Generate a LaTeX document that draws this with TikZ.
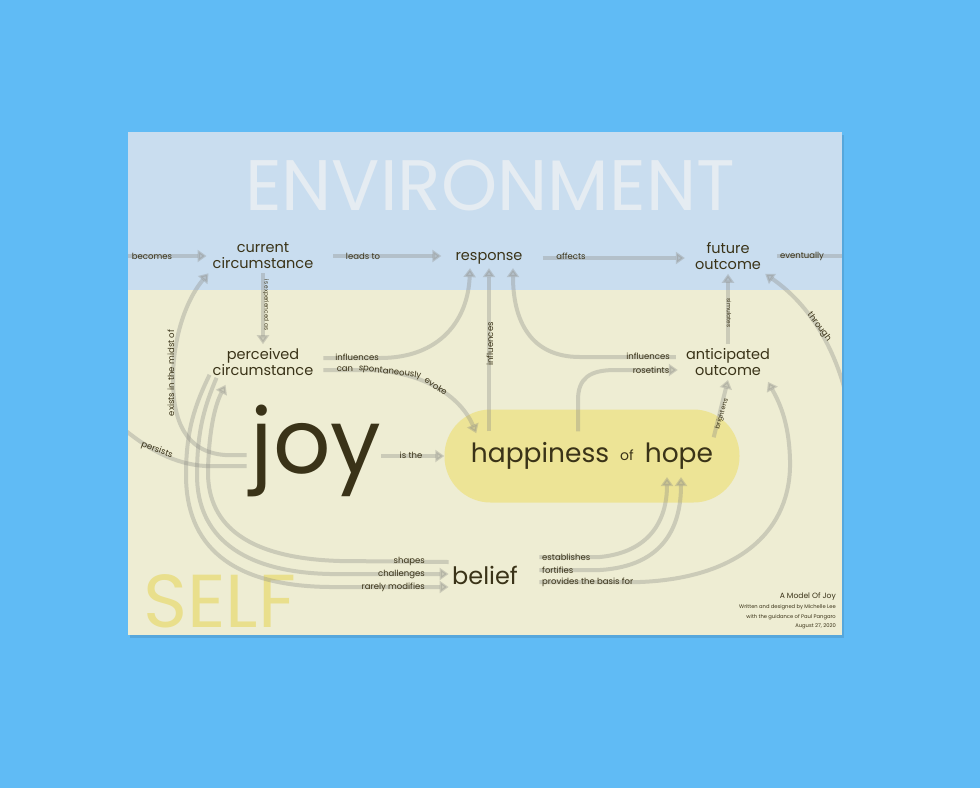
\documentclass[tikz,border=0pt]{standalone}
\usepackage{fontspec}
\setmainfont{Poppins}
\usetikzlibrary{arrows.meta,positioning,calc}
\definecolor{SkyBlue}{RGB}{96,187,245}
\definecolor{EnvBlue}{RGB}{201,221,239}
\definecolor{SelfCream}{RGB}{238,237,211}
\definecolor{EnvText}{RGB}{229,236,242}
\definecolor{SelfYellow}{RGB}{233,223,140}
\definecolor{HopeYellow}{RGB}{237,228,150}
\definecolor{InkBrown}{RGB}{58,51,24}
\definecolor{FlowGray}{RGB}{140,140,135}

\begin{document}
\begin{tikzpicture}[x=1pt, y=-1pt,
  concept/.style={font=\fontsize{14.5}{16}\selectfont, text=InkBrown, align=center, inner sep=4pt},
  flow/.style={draw=FlowGray, line width=4pt, opacity=0.35, -{Triangle[width=12pt,length=9pt]}},
  flowline/.style={draw=FlowGray, line width=4pt, opacity=0.35},
  lbl/.style={font=\fontsize{8.5}{10}\selectfont, text=InkBrown, inner sep=0pt},
  tinylbl/.style={font=\fontsize{5.8}{7}\selectfont, text=InkBrown, inner sep=0pt},
  credit/.style={font=\fontsize{5.2}{6}\selectfont, text=InkBrown, inner sep=0pt, anchor=east}]

  % Backdrop and poster
  \fill[SkyBlue] (0,0) rectangle (980,788);
  \useasboundingbox (0,0) rectangle (980,788);
  \fill[black, opacity=0.10] (130,135) rectangle (844,638);
  \fill[SelfCream] (128,132) rectangle (842,635);
  \fill[EnvBlue] (128,132) rectangle (842,290);

  % Realm titles
  \node[font=\fontsize{71.5}{72}\selectfont, text=EnvText] (envTitle) at (490,186) {ENVIRONMENT};
  \node[font=\fontsize{75}{75}\selectfont, text=SelfYellow, anchor=base west, inner sep=0pt] (selfTitle) at (143,627) {SELF};

  % Concepts
  \node[concept] (cur) at (263,256) {current\\circumstance};
  \node[concept] (resp) at (489,258) {response};
  \node[concept] (fut) at (728,256) {future\\outcome};
  \node[concept] (perc) at (263,362) {perceived\\circumstance};
  \node[concept] (anti) at (728,362) {anticipated\\outcome};
  \node[font=\fontsize{90}{90}\selectfont, text=InkBrown, inner sep=0pt] (joy) at (316,451) {joy};
  \node[fill=HopeYellow, rounded corners=46pt, minimum width=295pt, minimum height=93pt,
        text=InkBrown, font=\fontsize{26.5}{28}\selectfont] (hope) at (592,456)
        {happiness\hspace{11pt}\raisebox{2pt}{\fontsize{14}{16}\selectfont of}\hspace{11pt}hope};
  \node[font=\fontsize{24}{26}\selectfont, text=InkBrown] (belief) at (485,575) {belief};

  % Free ends at the poster edge
  \coordinate (edgeW) at (128,256);
  \coordinate (edgeE) at (842,256);
  \coordinate (edgeSW) at (126,431);
  \coordinate (edgeSE) at (850,412);

  \begin{scope}
    \clip (128,132) rectangle (842,635);
    % Environment row
    \draw[flow, shorten >=2pt] (edgeW) -- (cur.west);
    \draw[flow, shorten <=16pt, shorten >=10pt] (cur.east) -- (cur.east -| resp.west);
    \draw[flow, shorten <=16pt, shorten >=6pt] (resp.east) -- (resp.east -| fut.west);
    \draw[flowline, shorten <=12pt] (fut.east) -- (edgeE);
    \draw[flow] (cur.south) -- (perc.north);
    \draw[flow] (anti.north) -- (fut.south);
    \draw[flow] (edgeSE) .. controls (838,350) and (810,305) .. (fut.south east);

    % Perceived circumstance
    \draw[flow] ($(perc.east)+(6,-4)$) -- (380,358) .. controls (440,358) and (468,320) .. ($(resp.south)+(-19,0)$);
    \draw[flow] ($(perc.east)+(6,8)$) -- (365,370) .. controls (420,370) and (460,395) .. ($(hope.north west)+(32,24)$);

    % Happiness of hope
    \draw[flow] ($(resp.south |- hope.north)+(0,22)$) -- (resp.south);
    \draw[flow] ($(anti.west)+(-6,-5)$) -- (580,357) .. controls (530,357) and (513,320) .. ($(resp.south)+(24,0)$);
    \draw[flow] ($(hope.north)+(-14,22)$) -- (578,400) .. controls (578,378) and (590,370) .. (615,370) -- ($(anti.west)+(-4,8)$);
    \draw[flow] ($(hope.north east)+(-26,28)$) -- (anti.south);
    \draw[flow] (joy.east |- hope.west) -- (hope.west);

    % Joy
    \draw[flow] ($(joy.west)+(-4,4)$) -- (225,455) .. controls (185,452) and (173,420) .. (173,380)
                .. controls (173,330) and (190,295) .. (cur.south west);
    \draw[flowline] ($(joy.west)+(-4,15)$) -- (205,466) .. controls (175,464) and (150,450) .. (edgeSW);

    % Belief
    \draw[flow] ($(belief.west)+(0,-13)$) -- (340,561) .. controls (240,558) and (207,520) .. (208,470)
                .. controls (209,430) and (215,405) .. ($(perc.south west)+(17,5)$);
    \draw[flow] ($(perc.south west)+(8,-2)$) .. controls (205,405) and (197,430) .. (197,475)
                .. controls (197,535) and (240,572) .. (330,574) -- ($(belief.west)+(0,-1)$);
    \draw[flow] ($(perc.south west)+(1,-5)$) .. controls (195,405) and (186,430) .. (186,475)
                .. controls (186,545) and (230,586) .. (330,587) -- ($(belief.west)+(0,12)$);
    \draw[flow] ($(belief.east)+(18,-18)$) -- (600,557) .. controls (650,552) and (667,520) .. ($(hope.center)+(75,21)$);
    \draw[flow] ($(belief.east)+(18,-5)$) -- (600,570) .. controls (665,566) and (681,525) .. ($(hope.center)+(89,21)$);
    \draw[flow] ($(belief.east)+(18,7)$) -- (640,582) .. controls (740,578) and (792,530) .. (790,460)
                .. controls (789,420) and (778,400) .. ($(anti.south)+(40,2)$);
  \end{scope}

  % Connector labels
  \node[lbl] (lblBecomes) at (152,256) {becomes};
  \node[lbl] (lblLeads) at (363,256) {leads to};
  \node[lbl] (lblAffects) at (571,256) {affects};
  \node[lbl] (lblEventually) at (802,256) {eventually};
  \node[tinylbl, rotate=-90] (lblExperienced) at (266,305) {is experienced as};
  \node[tinylbl, rotate=-90] (lblSimulates) at (729,313) {simulates};
  \node[lbl, rotate=-53] (lblThrough) at (819,327) {through};
  \node[lbl] (lblInfPerc) at (357,357) {influences};
  \node[lbl] (lblCan) at (345,369) {can};
  \node[lbl, rotate=-7] (lblSpont) at (390,372) {spontaneously};
  \node[lbl, rotate=-33] (lblEvoke) at (436,386) {evoke};
  \node[lbl, rotate=90] (lblInfHope) at (490,344) {influences};
  \node[lbl] (lblInfAnti) at (648,356) {influences};
  \node[lbl] (lblRose) at (651,370) {rosetints};
  \node[tinylbl, font=\fontsize{6.5}{7}\selectfont, rotate=73] (lblBright) at (722,414) {brightens};
  \node[lbl, rotate=90] (lblExists) at (171,373) {exists in the midst of};
  \node[lbl, rotate=-20] (lblPersists) at (157,450) {persists};
  \node[lbl] (lblIsThe) at (411,455) {is the};
  \node[lbl, anchor=east] (lblShapes) at (425,561) {shapes};
  \node[lbl, anchor=east] (lblChallenges) at (425,574) {challenges};
  \node[lbl, anchor=east] (lblRarely) at (425,587) {rarely modifies};
  \node[lbl, anchor=west] (lblEstablishes) at (542,557) {establishes};
  \node[lbl, anchor=west] (lblFortifies) at (542,570) {fortifies};
  \node[lbl, anchor=west] (lblBasis) at (542,582) {provides the basis for};

  % Credits
  \node[credit, font=\fontsize{7.6}{9}\selectfont] (credTitle) at (836,597) {A Model Of Joy};
  \node[credit] (credWriter) at (836,607) {Written and designed by Michelle Lee};
  \node[credit] (credGuide) at (836,617) {with the guidance of Paul Pangaro};
  \node[credit] (credDate) at (836,626) {August 27, 2020};
\end{tikzpicture}
\end{document}
